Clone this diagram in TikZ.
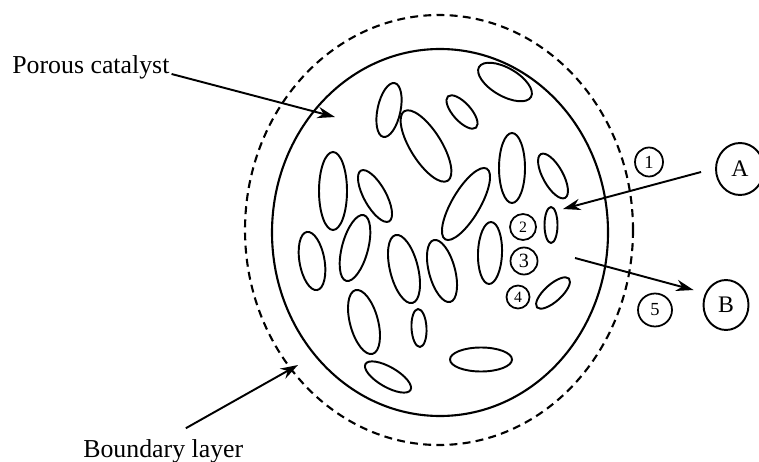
\documentclass[tikz,border=0pt]{standalone}
\usepackage{fontspec}
\setmainfont{Liberation Serif}
\usetikzlibrary{shapes.geometric,arrows.meta}

\tikzset{
  pore/.style={line width=1.1pt},
  label text/.style={inner sep=0pt, font=\fontsize{14.7}{17}\selectfont},
  stage/.style={draw, ellipse, line width=1pt, inner sep=0pt, font=\fontsize{10.5}{10.5}\selectfont},
  species/.style={draw, ellipse, line width=1.1pt, inner sep=0pt, font=\fontsize{13.5}{13.5}\selectfont},
  flux/.style={line width=1.1pt, -{Stealth[length=10pt,width=6.5pt]}}
}
\newcommand{\pore}[5]{\draw[pore, shift={(#1,#2)}, rotate=#5] (0,0) ellipse [x radius=#3, y radius=#4];}

\begin{document}
\begin{tikzpicture}[x=0.02cm, y=-0.02cm]
\useasboundingbox (0,0) rectangle (759,462);

% Boundary layer and particle
\draw[line width=1.2pt, dash pattern=on 4.5pt off 3pt] (439,230) ellipse [x radius=194, y radius=215];
\draw[line width=1.2pt] (440,232.5) ellipse [x radius=168, y radius=183.5];

% Pores
\pore{505}{82}{30}{14}{-30}
\pore{389}{110}{27.5}{11.5}{78}
\pore{462}{112}{21}{9}{-48}
\pore{426}{146}{41}{15.5}{-58}
\pore{512}{168}{35}{13}{90}
\pore{553}{176}{25}{10}{-61}
\pore{333}{191}{39}{14}{90}
\pore{375}{196}{29}{11}{-61}
\pore{466}{204}{41}{14}{59.5}
\pore{312}{261}{29.5}{12.5}{100}
\pore{355}{248}{34}{13}{75}
\pore{404}{269}{35}{14}{104}
\pore{442}{271}{32}{13}{105}
\pore{490}{253}{31}{12}{88}
\pore{551}{225}{18}{6.5}{90}
\pore{553}{293}{21.5}{8.5}{42}
\pore{364}{322}{33}{14}{105}
\pore{419}{328}{19}{7.5}{93}
\pore{481}{359.5}{31}{12}{0}
\pore{388}{377}{26}{10}{-30}

% Steps
\node[stage, minimum width=0.56cm, minimum height=0.58cm] (step1) at (649,162) {1};
\node[stage, minimum width=0.52cm, minimum height=0.52cm, font=\fontsize{9}{9}\selectfont] (step2) at (523,227) {2};
\node[stage, minimum width=0.54cm, minimum height=0.54cm, font=\fontsize{11.5}{11.5}\selectfont] (step3) at (524,261) {3};
\node[stage, minimum width=0.46cm, minimum height=0.46cm, font=\fontsize{9}{9}\selectfont] (step4) at (518,297) {4};
\node[stage, minimum width=0.68cm, minimum height=0.66cm] (step5) at (655,310) {5};

% Reactant and product
\node[species, minimum width=0.96cm, minimum height=1.04cm] (A) at (740,169) {A};
\node[species, minimum width=0.9cm, minimum height=1cm] (B) at (726,305) {B};

% Labels
\node[label text, anchor=base west] (catalyst) at (12,74) {Porous catalyst};
\node[label text, anchor=base west] (layer) at (83,457.5) {Boundary layer};

% Arrows
\coordinate (catalyst tip) at (335,117);
\coordinate (layer tip) at (298,365);
\coordinate (A tip) at (563,209);
\coordinate (B tail) at (575,258);
\draw[flux] ([xshift=1pt]catalyst.base east) -- (catalyst tip);
\draw[flux] ([xshift=0.45cm,yshift=0.22cm]layer.north) -- (layer tip);
\draw[flux] ([xshift=-0.28cm,yshift=-0.06cm]A.west) -- (A tip);
\draw[flux] (B tail) -- ([xshift=-0.18cm,yshift=0.3cm]B.west);

\end{tikzpicture}
\end{document}
